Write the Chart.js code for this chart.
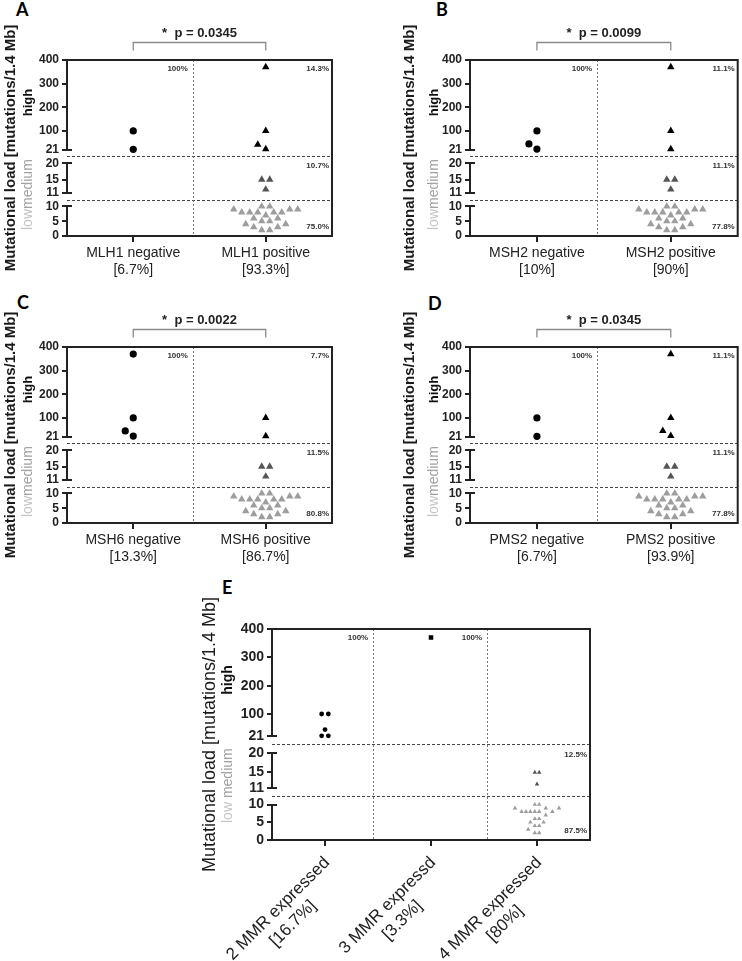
<!DOCTYPE html>
<html><head><meta charset="utf-8">
<script src="https://cdn.jsdelivr.net/npm/chart.js@4.4.1/dist/chart.umd.min.js"></script>
<style>
html,body{margin:0;padding:0;background:#fff;width:742px;height:961px;overflow:hidden;position:relative}
canvas{position:absolute}
.lt{position:absolute;font:bold 18px Lato,'Liberation Sans',sans-serif;line-height:18px;color:#000}
</style></head><body>
<div class="lt" style="left:16px;top:0px">A</div>
<div class="lt" style="left:436px;top:0px">B</div>
<div class="lt" style="left:17px;top:293px">C</div>
<div class="lt" style="left:428px;top:294px">D</div>
<div class="lt" style="left:222px;top:578px">E</div>
<canvas id="cA" width="370" height="300" style="left:0px;top:0px"></canvas>
<canvas id="cB" width="372" height="300" style="left:370px;top:0px"></canvas>
<canvas id="cC" width="370" height="300" style="left:0px;top:290px"></canvas>
<canvas id="cD" width="372" height="300" style="left:370px;top:290px"></canvas>
<canvas id="cE" width="440" height="386" style="left:170px;top:575px"></canvas>
<script>
// ---------------- DATA ----------------
const yTicks = [0, 5, 10, 11, 15, 20, 21, 100, 200, 300, 400];
const axisBreaks = [[0, 10], [11, 20], [21, 400]];
const yTitle = 'Mutational load [mutations/1.4 Mb]';
const tierNames = ['high', 'medium', 'low'];

const catsA = [['MLH1 negative', '[6.7%]'], ['MLH1 positive', '[93.3%]']];
const negA = [100, 22];
const posA = [370, 100, 42, 23, 15, 15, 12, 10, 10, 9, 9, 9, 8, 8, 8, 8, 8, 7, 6, 6, 5, 5, 4, 4, 3, 3, 2, 2];
const pctA = [['100%', '', ''], ['14.3%', '10.7%', '75.0%']];
const pA = '0.0345';

const catsB = [['MSH2 negative', '[10%]'], ['MSH2 positive', '[90%]']];
const negB = [100, 45, 23];
const posB = [370, 100, 23, 15, 15, 12, 10, 10, 9, 9, 9, 8, 8, 8, 8, 8, 7, 6, 6, 5, 5, 4, 4, 3, 3, 2, 2];
const pctB = [['100%', '', ''], ['11.1%', '11.1%', '77.8%']];
const pB = '0.0099';

const catsC = [['MSH6 negative', '[13.3%]'], ['MSH6 positive', '[86.7%]']];
const negC = [370, 100, 45, 23];
const posC = [100, 23, 15, 15, 12, 10, 10, 9, 9, 9, 8, 8, 8, 8, 8, 7, 6, 6, 5, 5, 4, 4, 3, 3, 2, 2];
const pctC = [['100%', '', ''], ['7.7%', '11.5%', '80.8%']];
const pC = '0.0022';

const catsD = [['PMS2 negative', '[6.7%]'], ['PMS2 positive', '[93.9%]']];
const negD = [100, 22];
const posD = [370, 100, 45, 24, 15, 15, 12, 10, 10, 9, 9, 9, 8, 8, 8, 8, 8, 7, 6, 6, 5, 5, 4, 4, 3, 3, 2, 2];
const pctD = [['100%', '', ''], ['11.1%', '11.1%', '77.8%']];
const pD = '0.0345';

const catsE = [['2 MMR expressed', '[16.7%]'], ['3 MMR expressd', '[3.3%]'], ['4 MMR expressed', '[80%]']];
const mmr2E = [100, 100, 45, 23, 23];
const mmr3E = [370];
const mmr4E = [15, 15, 12, 10, 10, 9, 9, 9, 8, 8, 8, 8, 8, 8, 7, 6, 6, 5, 5, 4, 4, 3, 2, 2];
const pctE = [['100%', '', ''], ['100%', '', ''], ['', '12.5%', '87.5%']];

// ---------------- SCALE ----------------
const KNOTS = [[0, 0], [10, 0.168], [11, 0.246], [20, 0.413], [21, 0.491], [400, 1]];
function frac(v) {
  for (let i = 1; i < KNOTS.length; i++) {
    const [v0, f0] = KNOTS[i - 1], [v1, f1] = KNOTS[i];
    if (v <= v1 || i === KNOTS.length - 1) return f0 + (v - v0) * (f1 - f0) / (v1 - v0);
  }
}
function invFrac(f) {
  for (let i = 1; i < KNOTS.length; i++) {
    const [v0, f0] = KNOTS[i - 1], [v1, f1] = KNOTS[i];
    if (f <= f1 || i === KNOTS.length - 1) return v0 + (f - f0) * (v1 - v0) / (f1 - f0);
  }
}
class BrokenScale extends Chart.LinearScale {
  getPixelForValue(v) { return v == null ? NaN : this.getPixelForDecimal(frac(v)); }
  getValueForPixel(p) { return invFrac(this.getDecimalForPixel(p)); }
}
BrokenScale.id = 'broken';
BrokenScale.defaults = {};
Chart.register(BrokenScale);

Chart.defaults.font.family = "'Liberation Sans', Arial, sans-serif";

const COL = {high: '#000000', medium: '#555555', low: '#9d9d9d'};
function tierOf(v) { return v >= 21 ? 'high' : (v >= 11 ? 'medium' : 'low'); }

// beeswarm-type horizontal spreading, computed from the values
function swarm(vals, plotH, catW, s, D) {
  const order = vals.map((v, i) => i).sort((a, b) => vals[a] - vals[b] || a - b);
  const cnt = {};
  vals.forEach(v => cnt[v] = (cnt[v] || 0) + 1);
  const placed = [], res = new Array(vals.length);
  for (const i of order) {
    const y = frac(vals[i]) * plotH;
    const even = cnt[vals[i]] % 2 === 0;
    const bal = placed.reduce((t, p) => t + p.x, 0);
    let best = null;
    for (let k = 0; k < 80 && best === null; k++) {
      const m = even ? s * (k + 0.5) : s * k;
      const signs = m === 0 ? [1] : (bal >= 0 ? [-1, 1] : [1, -1]);
      for (const sg of signs) {
        const x = sg * m;
        if (placed.every(p => Math.hypot(p.x - x, p.y - y) >= D)) { best = x; break; }
      }
    }
    placed.push({x: best, y});
    res[i] = best / catW;
  }
  return res;
}

const ST_SMALL = {
  tick: 12, xfont: 14, title: 'bold 15px', high: 'bold 13px', lm: '14px', lmSep: '', lowOff: 6, pct: 'bold 8px',
  shape: {circle: {r: 3.6, s: 8, D: 7}, triangle: {r: 4.3, s: 8, D: 7}, rect: {r: 3.2, s: 8, D: 7}}
};
const ST_E = {
  tick: 14, xfont: 17, title: '18px', high: 'bold 14px', lm: '14px', lmSep: ' ', lowOff: 17, pct: 'bold 8px',
  shape: {circle: {r: 2.4, s: 6.7, D: 6}, triangle: {r: 2.6, s: 4.4, D: 4.2}, rect: {r: 3.2, s: 6, D: 6}}
};

const PANELS = [
  {id: 'cA', W: 370, H: 300, area: {l: 67, r: 332, t: 60, b: 236}, cats: catsA,
   groups: [{vals: negA, shape: 'circle'}, {vals: posA, shape: 'triangle'}], pcts: pctA, seps: [0.45], p: pA, titleX: 11, lblX: 28, st: ST_SMALL},
  {id: 'cB', W: 372, H: 300, area: {l: 100, r: 368, t: 60, b: 236}, cats: catsB,
   groups: [{vals: negB, shape: 'circle'}, {vals: posB, shape: 'triangle'}], pcts: pctB, seps: [0.45], p: pB, titleX: 40, lblX: 64, st: ST_SMALL},
  {id: 'cC', W: 370, H: 300, area: {l: 67, r: 332, t: 57, b: 233}, cats: catsC,
   groups: [{vals: negC, shape: 'circle'}, {vals: posC, shape: 'triangle'}], pcts: pctC, seps: [0.45], p: pC, titleX: 11, lblX: 28, st: ST_SMALL},
  {id: 'cD', W: 372, H: 300, area: {l: 100, r: 368, t: 57, b: 233}, cats: catsD,
   groups: [{vals: negD, shape: 'circle'}, {vals: posD, shape: 'triangle'}], pcts: pctD, seps: [0.45], p: pD, titleX: 40, lblX: 64, st: ST_SMALL},
  {id: 'cE', W: 440, H: 386, area: {l: 102, r: 420, t: 54, b: 265}, cats: catsE,
   groups: [{vals: mmr2E, shape: 'circle'}, {vals: mmr3E, shape: 'rect'}, {vals: mmr4E, shape: 'triangle'}], pcts: pctE, seps: [0.455, 1.53], p: null, titleX: 40, lblX: 58, st: ST_E, rotX: true}
];

function decor(P) {
  const st = P.st;
  return {
    id: 'decor' + P.id,
    beforeDatasetsDraw(chart) {
      const {ctx, chartArea: a, scales: {x, y}} = chart;
      ctx.save();
      ctx.lineWidth = 1; ctx.strokeStyle = '#444'; ctx.setLineDash([3, 2]);
      [20.55, 10.5].forEach(v => {
        const py = Math.round(y.getPixelForValue(v)) + 0.5;
        ctx.beginPath(); ctx.moveTo(a.left, py); ctx.lineTo(a.right, py); ctx.stroke();
      });
      ctx.strokeStyle = '#777'; ctx.setLineDash([2, 2]);
      P.seps.forEach(s => {
        const px = Math.round(x.getPixelForValue(s)) + 0.5;
        ctx.beginPath(); ctx.moveTo(px, a.top); ctx.lineTo(px, a.bottom); ctx.stroke();
      });
      ctx.restore();
    },
    afterDraw(chart) {
      const {ctx, chartArea: a, scales: {x, y}} = chart;
      ctx.save();
      // frame
      ctx.setLineDash([]); ctx.strokeStyle = '#222'; ctx.lineWidth = 2;
      ctx.beginPath(); ctx.moveTo(a.left, a.top); ctx.lineTo(a.right, a.top); ctx.lineTo(a.right, a.bottom); ctx.lineTo(a.left, a.bottom); ctx.stroke();
      // broken y axis
      axisBreaks.forEach(([v0, v1]) => {
        const p0 = y.getPixelForValue(v0), p1 = y.getPixelForValue(v1);
        ctx.beginPath(); ctx.moveTo(a.left, p0 + (v0 === 0 ? 1 : 0.5)); ctx.lineTo(a.left, p1 - (v1 === 400 ? 1 : 0.5)); ctx.stroke();
        [v0, v1].forEach(v => {
          if (v === 0 || v === 400) return;
          const py = Math.round(y.getPixelForValue(v));
          ctx.beginPath(); ctx.moveTo(a.left, py); ctx.lineTo(a.left + 5, py); ctx.stroke();
        });
      });
      // percentages
      ctx.font = st.pct + " 'Liberation Sans', Arial, sans-serif";
      ctx.fillStyle = '#333'; ctx.textAlign = 'right'; ctx.textBaseline = 'middle';
      P.pcts.forEach((arr, c) => {
        const xr = c < P.cats.length - 1 ? x.getPixelForValue(P.seps[c]) - 5 : a.right - 3;
        const ys = [a.top + 9, y.getPixelForValue(20) + 2, a.bottom - 9];
        arr.forEach((t, k) => { if (t) ctx.fillText(t, xr, ys[k]); });
      });
      // significance bracket
      if (P.p) {
        const x0 = x.getPixelForValue(0), x1 = x.getPixelForValue(1), by = a.top - 17.5;
        ctx.strokeStyle = '#8a8a8a'; ctx.lineWidth = 1.3;
        ctx.beginPath(); ctx.moveTo(x0, by + 8); ctx.lineTo(x0, by); ctx.lineTo(x1, by); ctx.lineTo(x1, by + 8); ctx.stroke();
        ctx.fillStyle = '#222'; ctx.font = "bold 13px 'Liberation Sans', Arial, sans-serif";
        ctx.textAlign = 'center'; ctx.textBaseline = 'middle';
        ctx.fillText('*  p = ' + P.p, (x0 + x1) / 2, a.top - 27);
      }
      // y title
      ctx.save();
      ctx.translate(P.titleX, (a.top + a.bottom) / 2); ctx.rotate(-Math.PI / 2);
      ctx.font = st.title + " 'Liberation Sans', Arial, sans-serif"; ctx.fillStyle = '#1a1a1a';
      ctx.textAlign = 'center'; ctx.textBaseline = 'middle';
      ctx.fillText(yTitle, 0, 0);
      ctx.restore();
      // tier labels
      ctx.save();
      ctx.translate(P.lblX, y.getPixelForValue(220)); ctx.rotate(-Math.PI / 2);
      ctx.font = st.high + " 'Liberation Sans', Arial, sans-serif"; ctx.fillStyle = '#111';
      ctx.textAlign = 'center'; ctx.textBaseline = 'middle';
      ctx.fillText(tierNames[0], 0, 0);
      ctx.restore();
      ctx.save();
      ctx.translate(P.lblX, a.bottom - st.lowOff); ctx.rotate(-Math.PI / 2);
      ctx.font = st.lm + " 'Liberation Sans', Arial, sans-serif";
      ctx.textAlign = 'left'; ctx.textBaseline = 'middle';
      ctx.fillStyle = '#c4c4c4'; ctx.fillText(tierNames[2], 0, 0);
      const w = ctx.measureText(tierNames[2] + st.lmSep).width;
      ctx.fillStyle = '#a2a2a2'; ctx.fillText(tierNames[1], w, 0);
      ctx.restore();
      // rotated category labels
      if (P.rotX) {
        ctx.font = st.xfont + "px 'Liberation Sans', Arial, sans-serif"; ctx.fillStyle = '#222';
        P.cats.forEach((lines, c) => {
          const px = x.getPixelForValue(c);
          ctx.save();
          ctx.translate(px - 4, a.bottom + 14); ctx.rotate(-Math.PI / 4);
          const w1 = Math.max(...lines.map(l => ctx.measureText(l).width));
          ctx.textAlign = 'center'; ctx.textBaseline = 'top';
          lines.forEach((l, i) => ctx.fillText(l, -w1 / 2, i * 21));
          ctx.restore();
        });
      }
      ctx.restore();
    }
  };
}

function makeChart(P) {
  const a = P.area, st = P.st;
  const plotH = a.b - a.t, catW = (a.r - a.l) / P.cats.length;
  const datasets = [];
  P.groups.forEach((g, c) => {
    const sh = st.shape[g.shape];
    const off = swarm(g.vals, plotH, catW, sh.s, sh.D);
    const tiers = g.shape === 'triangle' ? ['high', 'medium', 'low'] : ['all'];
    tiers.forEach(t => {
      const pts = [];
      g.vals.forEach((v, i) => { if (t === 'all' || tierOf(v) === t) pts.push({x: c + off[i], y: v}); });
      if (!pts.length) return;
      datasets.push({data: pts, pointStyle: g.shape, pointRadius: sh.r, pointHoverRadius: sh.r,
        backgroundColor: t === 'all' ? '#000' : COL[t], borderColor: 'rgba(0,0,0,0)', borderWidth: 0});
    });
  });
  return new Chart(document.getElementById(P.id), {
    type: 'scatter',
    data: {datasets},
    options: {
      responsive: false, animation: false, devicePixelRatio: 1, events: [],
      layout: {padding: {left: 0, top: a.t, right: P.W - a.r, bottom: 0}},
      plugins: {legend: {display: false}, tooltip: {enabled: false}},
      scales: {
        x: {
          type: 'linear', min: -0.5, max: P.cats.length - 0.5,
          afterBuildTicks: s => { s.ticks = P.cats.map((_, i) => ({value: i})); },
          afterFit: s => { s.height = P.H - a.b; },
          grid: {display: true, drawOnChartArea: false, drawTicks: true, tickLength: 6, color: '#222', lineWidth: 2},
          border: {display: false},
          ticks: {display: !P.rotX, autoSkip: false, maxRotation: 0, minRotation: 0, padding: 3, color: '#222',
            font: {size: st.xfont}, callback: v => P.cats[Math.round(v)]}
        },
        y: {
          type: 'broken', min: 0, max: 400,
          afterBuildTicks: s => { s.ticks = yTicks.map(v => ({value: v})); },
          afterFit: s => { s.width = a.l; },
          grid: {display: true, drawOnChartArea: false, drawTicks: true, tickLength: 5, color: '#222', lineWidth: 2},
          border: {display: false},
          ticks: {autoSkip: false, padding: 3, color: '#222', font: {size: st.tick, weight: 'bold'}}
        }
      }
    },
    plugins: [decor(P)]
  });
}
PANELS.forEach(makeChart);
</script>
</body></html>
